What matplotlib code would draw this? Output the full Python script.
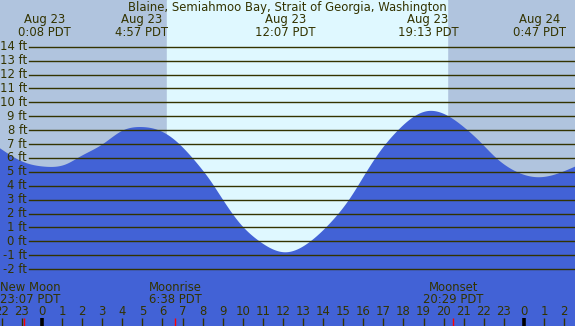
import numpy as np
import matplotlib
matplotlib.use("Agg")
import matplotlib.pyplot as plt
import matplotlib.transforms as mtransforms

# ---- data (hours relative to Aug 23 00:00 PDT, heights in ft) ----
tide_hours = [-2.09, -1.0, 0.133, 1.2, 1.9, 3.04, 4.0, 4.95, 5.88, 6.6, 7.37, 7.87,
              8.37, 8.86, 9.86, 10.86, 12.117, 13.35, 14.34, 15.34, 16.17, 16.83,
              17.66, 19.217, 20.98, 21.81, 22.64, 23.47, 24.783, 26.54]
tide_ft = [6.69, 5.75, 5.37, 5.54, 6.09, 7.0, 7.95, 8.22, 7.95, 7.3, 6.2, 5.35,
           4.40, 3.33, 1.29, -0.03, -0.79, -0.03, 1.29, 3.09, 5.01, 6.45,
           7.88, 9.37, 8.25, 7.17, 5.97, 5.12, 4.61, 5.37]

extreme_hours = [0.133, 4.95, 12.117, 19.217, 24.783]
extreme_dates = ["Aug 23", "Aug 23", "Aug 23", "Aug 23", "Aug 24"]
extreme_times = ["0:08 PDT", "4:57 PDT", "12:07 PDT", "19:13 PDT", "0:47 PDT"]

sunrise_h = 6.22
sunset_h = 20.17

moon_hours = [-0.883, 6.633, 20.483]
moon_names = ["New Moon", "Moonrise", "Moonset"]
moon_times = ["23:07 PDT", "6:38 PDT", "20:29 PDT"]

ft_levels = list(range(-2, 15))
hour_ticks = list(range(-2, 27))
midnights = [0, 24]

title = "Blaine, Semiahmoo Bay, Strait of Georgia, Washington"

# ---- colours ----
night_col = "#b0c4de"
day_col = "#dff8ff"
water_col = "#4262d6"
ink = "#333300"

W, H = 575, 326
x0_px, px_per_h = 42.0, 20.08
y0_px, px_per_ft = 241.3, 13.9
xmin = (0 - x0_px) / px_per_h
xmax = (W - x0_px) / px_per_h
ymax = (y0_px - 0) / px_per_ft
ymin = (y0_px - H) / px_per_ft


def natural_spline(x, y, xn):
    x = np.asarray(x, float); y = np.asarray(y, float)
    n = len(x)
    h = np.diff(x)
    A = np.zeros((n, n)); b = np.zeros(n)
    A[0, 0] = 1; A[-1, -1] = 1
    for i in range(1, n - 1):
        A[i, i - 1] = h[i - 1]
        A[i, i] = 2 * (h[i - 1] + h[i])
        A[i, i + 1] = h[i]
        b[i] = 3 * ((y[i + 1] - y[i]) / h[i] - (y[i] - y[i - 1]) / h[i - 1])
    c = np.linalg.solve(A, b)
    bb = (y[1:] - y[:-1]) / h - h * (2 * c[:-1] + c[1:]) / 3
    d = (c[1:] - c[:-1]) / (3 * h)
    idx = np.clip(np.searchsorted(x, xn) - 1, 0, n - 2)
    t = xn - x[idx]
    return y[idx] + bb[idx] * t + c[idx] * t**2 + d[idx] * t**3


fig = plt.figure(figsize=(W / 100, H / 100), dpi=100)
ax = fig.add_axes([0, 0, 1, 1])
ax.set_xlim(xmin, xmax)
ax.set_ylim(ymin, ymax)
ax.axis("off")
fig.patch.set_facecolor(night_col)
ax.axvspan(xmin, xmax, color=night_col, zorder=0)
ax.axvspan(sunrise_h, sunset_h, color=day_col, zorder=1)

xs = np.linspace(xmin, xmax, 1200)
ys = natural_spline(tide_hours, tide_ft, xs)
ax.fill_between(xs, ys, ymin - 5, color=water_col, lw=0, zorder=2)

fs = 8.4
line_x0 = 29 / W
lab_tr = mtransforms.blended_transform_factory(mtransforms.IdentityTransform(), ax.transData)
for f in ft_levels:
    ax.axhline(f, xmin=line_x0, xmax=1, color=ink, lw=1.0, zorder=3)
    ax.text(27, f, f"{f} ft", transform=lab_tr,
            ha="right", va="center", fontsize=fs, color=ink, zorder=4)


def ypix(row):
    return (H - row) / H


LS = 0.93
xtr = ax.get_xaxis_transform()
ax.text(0.5, ypix(7), title, transform=ax.transAxes, ha="center", va="center",
        fontsize=fs, color=ink, zorder=5)
for h, d, t in zip(extreme_hours, extreme_dates, extreme_times):
    ax.text(h, ypix(26.1), d + "\n" + t, transform=xtr, ha="center", va="center",
            multialignment="center", linespacing=LS, fontsize=fs, color=ink, zorder=5)

for i, (h, n, t) in enumerate(zip(moon_hours, moon_names, moon_times)):
    if i == 0:
        ax.text(0, ypix(293.3), n + "\n" + t, transform=ax.transAxes, ha="left", va="center",
                multialignment="left", linespacing=LS, fontsize=fs, color=ink, zorder=5)
    else:
        ax.text(h, ypix(293.3), n + "\n" + t, transform=xtr, ha="center", va="center",
                multialignment="center", linespacing=LS, fontsize=fs, color=ink, zorder=5)

tick_top = ypix(318)
for h in hour_ticks:
    ax.text(h, ypix(311.5), str(h % 24), transform=xtr, ha="center", va="center",
            fontsize=fs, color=ink, zorder=5)
    if h in midnights:
        ax.vlines(h, 0, tick_top, transform=xtr, color="black", lw=2.6, zorder=5)
    else:
        ax.vlines(h, 0, tick_top, transform=xtr, color=ink, lw=1.0, zorder=5)
for h in moon_hours:
    ax.vlines(h, 0, tick_top, transform=xtr, color="red", lw=1.0, zorder=6)

fig.savefig("out.png", dpi=100, facecolor=night_col)
